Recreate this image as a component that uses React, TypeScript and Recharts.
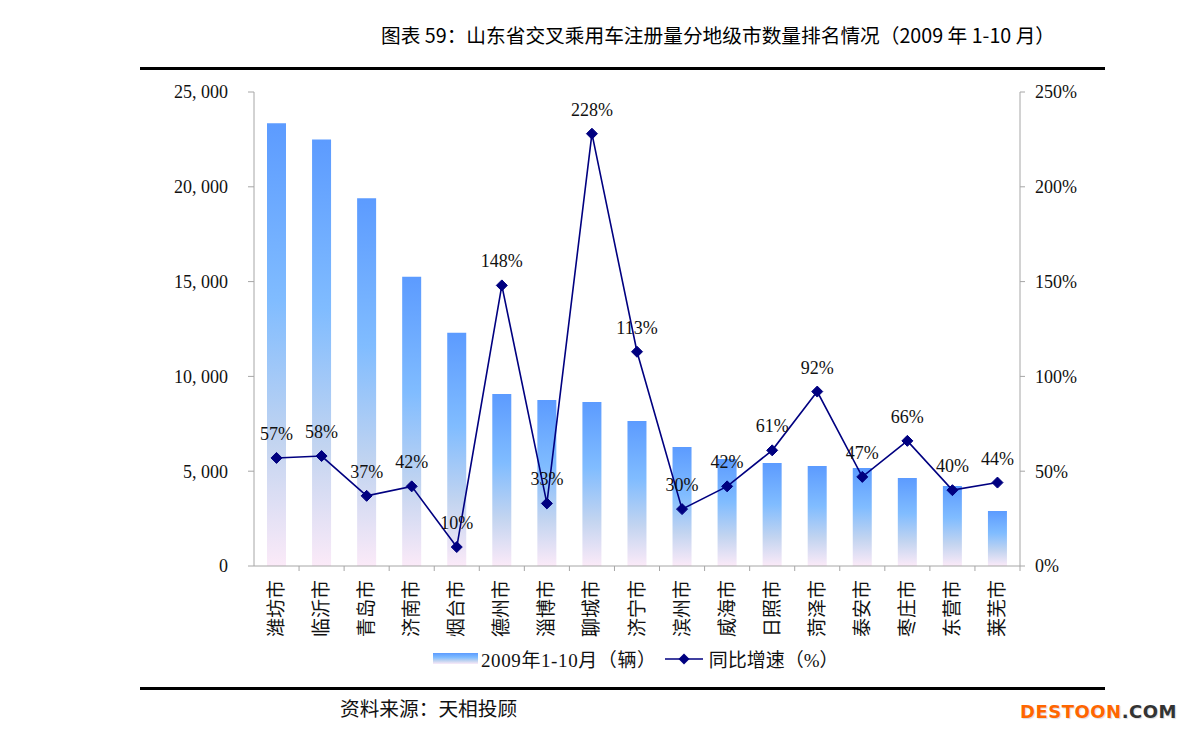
import React from 'react';
import { ComposedChart, Bar, Line, XAxis, YAxis, LabelList } from 'recharts';

// 山东省交叉乘用车注册量（2009年1-10月）
const cities = ['潍坊市', '临沂市', '青岛市', '济南市', '烟台市', '德州市', '淄博市', '聊城市', '济宁市', '滨州市', '威海市', '日照市', '菏泽市', '泰安市', '枣庄市', '东营市', '莱芜市'];
const volumes = [23350, 22500, 19400, 15250, 12300, 9070, 8750, 8650, 7650, 6280, 5640, 5430, 5270, 5170, 4640, 4220, 2900];
const growth = [57, 58, 37, 42, 10, 148, 33, 228, 113, 30, 42, 61, 92, 47, 66, 40, 44];

const leftTicks = [0, 5000, 10000, 15000, 20000, 25000];
const rightTicks = [0, 50, 100, 150, 200, 250];

const data = cities.map((city, i) => ({ city, volume: volumes[i], growth: growth[i] }));

const W = 1191;
const H = 736;
const PLOT_LEFT = 254;
const PLOT_RIGHT = 1020;
const BAND = (PLOT_RIGHT - PLOT_LEFT) / cities.length;

const SERIF = '"Liberation Serif", "Noto Sans CJK SC", serif';
const SANS = '"Noto Sans CJK SC", "Noto Sans", sans-serif';
const NAVY = '#000080';
const AXIS = '#A6A6A6';

// 原图为宋体逗号，视觉上带空格
const fmtThousands = (v: number) => v.toLocaleString('en-US').replace(',', ', ');

const CityTick = (props: any) => {
  const { x, y, payload } = props;
  const ty = y + 14;
  return (
    <g>
      <line x1={x + BAND / 2} y1={y} x2={x + BAND / 2} y2={y + 5} stroke={AXIS} />
      <text
        x={x}
        y={ty}
        transform={`rotate(-90 ${x} ${ty})`}
        textAnchor="end"
        dominantBaseline="central"
        fontSize={19}
        fontFamily={SERIF}
        fill="#111"
      >
        {payload.value}
      </text>
    </g>
  );
};

const Diamond = (props: any) => {
  const { cx, cy, index } = props;
  const s = 5.5;
  return (
    <path
      key={`d-${index}`}
      d={`M${cx},${cy - s}L${cx + s},${cy}L${cx},${cy + s}L${cx - s},${cy}Z`}
      fill={NAVY}
      stroke={NAVY}
    />
  );
};

export default function App() {
  return (
    <div style={{ position: 'absolute', left: 0, top: 0, width: W, height: H, background: '#fff' }}>
      <div
        style={{
          position: 'absolute',
          left: 381,
          top: 20,
          fontFamily: SANS,
          fontSize: 19.7,
          color: '#000',
          whiteSpace: 'nowrap',
        }}
      >
        图表 59：山东省交叉乘用车注册量分地级市数量排名情况（2009 年 1-10 月）
      </div>
      <div style={{ position: 'absolute', left: 140, top: 67, width: 965, height: 2.5, background: '#000' }} />

      <ComposedChart
        width={W}
        height={H}
        data={data}
        margin={{ top: 92, right: 91, bottom: 70, left: 174 }}
        style={{ position: 'absolute', left: 0, top: 0 }}
      >
        <defs>
          <linearGradient id="barFill" x1="0" y1="0" x2="0" y2="1">
            <stop offset="0%" stopColor="#5C9BFF" />
            <stop offset="40%" stopColor="#80BCFF" />
            <stop offset="72%" stopColor="#C2D4F0" />
            <stop offset="100%" stopColor="#FBEAF8" />
          </linearGradient>
        </defs>
        <XAxis
          dataKey="city"
          height={100}
          axisLine={{ stroke: AXIS }}
          tickLine={false}
          tickSize={0}
          tickMargin={0}
          interval={0}
          tick={<CityTick />}
        />
        <YAxis
          yAxisId="left"
          width={80}
          domain={[0, 25000]}
          ticks={leftTicks}
          tickFormatter={fmtThousands}
          axisLine={{ stroke: AXIS }}
          tickLine={{ stroke: AXIS }}
          tickSize={6}
          tickMargin={20}
          tick={{ fontSize: 18, fontFamily: SERIF, fill: '#111' }}
        />
        <YAxis
          yAxisId="right"
          orientation="right"
          width={80}
          domain={[0, 250]}
          ticks={rightTicks}
          tickFormatter={(v: number) => `${v}%`}
          axisLine={{ stroke: AXIS }}
          tickLine={{ stroke: AXIS }}
          tickSize={5}
          tickMargin={10}
          tick={{ fontSize: 18, fontFamily: SERIF, fill: '#111' }}
        />
        <Bar yAxisId="left" dataKey="volume" fill="url(#barFill)" barSize={19} isAnimationActive={false} />
        <Line
          yAxisId="right"
          dataKey="growth"
          type="linear"
          stroke={NAVY}
          strokeWidth={1.6}
          dot={Diamond}
          activeDot={false}
          isAnimationActive={false}
        >
          <LabelList
            dataKey="growth"
            position="top"
            offset={18}
            formatter={(v: any) => `${v}%`}
            fill="#111"
            fontSize={18}
            fontFamily={SERIF}
          />
        </Line>
      </ComposedChart>

      {/* legend */}
      <div
        style={{
          position: 'absolute',
          left: 433,
          top: 645,
          display: 'flex',
          alignItems: 'center',
          fontFamily: SERIF,
          fontSize: 19,
          color: '#111',
          whiteSpace: 'nowrap',
        }}
      >
        <span
          style={{
            display: 'inline-block',
            width: 45,
            height: 11,
            background: 'linear-gradient(#5C9BFF, #80BCFF 40%, #C2D4F0 72%, #FBEAF8)',
            marginRight: 3,
          }}
        />
        <span style={{ letterSpacing: 0.6 }}>2009年1-10月（辆）</span>
        <svg width={38} height={14} style={{ marginLeft: 8, marginRight: 6 }}>
          <line x1={0} y1={7} x2={38} y2={7} stroke={NAVY} strokeWidth={1.6} />
          <path d="M19,1.5L24.5,7L19,12.5L13.5,7Z" fill={NAVY} />
        </svg>
        <span>同比增速（%）</span>
      </div>

      <div style={{ position: 'absolute', left: 140, top: 687, width: 965, height: 2.5, background: '#000' }} />
      <div
        style={{
          position: 'absolute',
          left: 340,
          top: 693,
          fontFamily: SERIF,
          fontSize: 19.7,
          color: '#111',
          whiteSpace: 'nowrap',
        }}
      >
        资料来源：天相投顾
      </div>
      <div
        style={{
          position: 'absolute',
          left: 1020,
          top: 701,
          fontFamily: '"DejaVu Sans", sans-serif',
          fontWeight: 'bold',
          fontSize: 18,
          letterSpacing: 0.5,
          whiteSpace: 'nowrap',
          textShadow: '1px 1px 1px #ddd',
        }}
      >
        <span style={{ color: '#FF6600' }}>DESTOON</span>
        <span style={{ color: '#333' }}>.COM</span>
      </div>
    </div>
  );
}
